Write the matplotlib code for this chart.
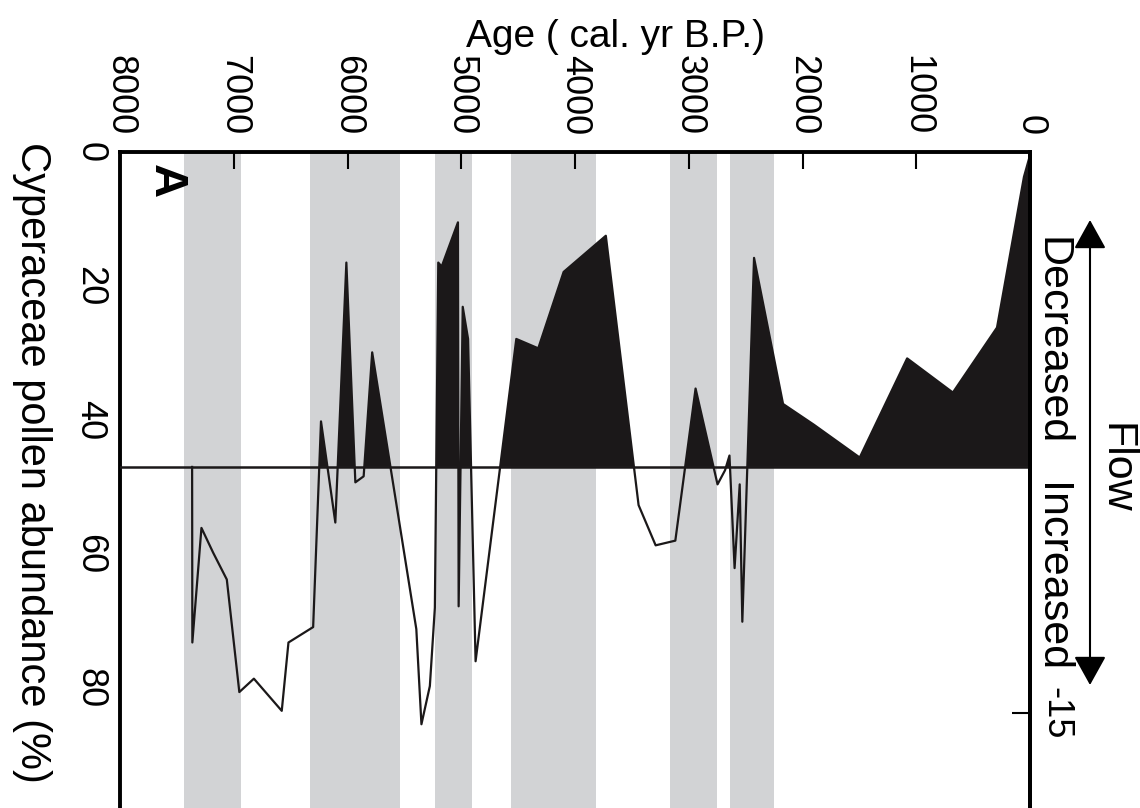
import numpy as np
import matplotlib.pyplot as plt

plt.rcParams['font.family'] = ['Liberation Sans', 'DejaVu Sans']

# Cyperaceae pollen record, age in cal. yr B.P.
age = [7366, 7364, 7284, 7181, 7061, 6951, 6823, 6578, 6519, 6302,
       6233, 6107, 6010, 5931, 5858, 5783, 5395, 5350, 5276, 5232,
       5202, 5172, 5029, 5023, 4987, 4940, 4874, 4516, 4323, 4100,
       3729, 3441, 3291, 3118, 2940, 2747, 2681, 2642, 2597, 2552,
       2529, 2426, 2171, 1900, 1497, 1080, 678, 290, 53, 0]
cyperaceae = [47, 73.2, 56.1, 59.8, 63.8, 80.6, 78.6, 83.4, 73.2, 70.9,
              40.2, 55.3, 16.5, 49.3, 48.4, 29.9, 71.2, 85.4, 79.7, 68.0,
              16.5, 17.1, 10.5, 67.8, 23.1, 27.9, 76.0, 27.9, 29.3, 17.9,
              12.5, 52.7, 58.7, 58.0, 35.3, 49.6, 47.5, 45.3, 62.1, 49.6,
              70.1, 15.8, 37.6, 40.7, 45.6, 30.8, 35.9, 26.2, 3.7, 0.5]
baseline = 47

# shaded intervals (older, younger)
bands = [(7440, 6935), (6330, 5540), (5230, 4905),
         (4563, 3815), (3165, 2750), (2637, 2250)]

age_ticks = [8000, 7000, 6000, 5000, 4000, 3000, 2000, 1000, 0]
pct_ticks = [0, 20, 40, 60, 80]
flow_ticks = [-15]

age = np.array(age)
cyperaceae = np.array(cyperaceae)

fig = plt.figure(figsize=(11.4, 8.08), dpi=100)
ax = fig.add_axes([120 / 1140, 0.0, 910 / 1140, 656 / 808])

for old, young in bands:
    ax.axvspan(young, old, color='#d2d3d5', lw=0, zorder=0)

ax.fill_between(age, cyperaceae, baseline, where=cyperaceae <= baseline,
                interpolate=True, color='#1b1819', lw=0, zorder=2)
ax.plot(age, cyperaceae, color='#1b1819', lw=1.6, zorder=3)
ax.axhline(baseline, color='#1b1819', lw=1.8, zorder=3)

ax.set_xlim(8000, 0)
ax.set_ylim(97.9, 0)

ax.spines['bottom'].set_visible(False)
for side in ('top', 'left', 'right'):
    ax.spines[side].set_linewidth(2.8)

ax.xaxis.tick_top()
ax.set_xticks(age_ticks)
ax.set_xticklabels([str(t) for t in age_ticks], rotation=-90)
ax.tick_params(axis='x', direction='in', length=12, width=1.5,
               labelsize=26, pad=12)
ax.set_yticks(pct_ticks)
ax.set_yticklabels([str(t) for t in pct_ticks], rotation=-90, va='center')
ax.tick_params(axis='y', length=0, labelsize=26, pad=9)

ax.xaxis.set_label_position('top')
ax.set_xlabel('Age ( cal. yr B.P.)', fontsize=28)
ax.xaxis.set_label_coords(0.544, 1.175)
ax.xaxis.label.set_va('center')

ax.set_ylabel('Cyperaceae pollen abundance (%)', fontsize=30, rotation=-90,
              va='center', ha='center')
ax.yaxis.set_label_coords(-0.097, 0.527)

ax.text(0.05, 0.955, 'A', transform=ax.transAxes, fontsize=34,
        fontweight='bold', rotation=-90, ha='center', va='center')

# flow scale on the right
ax2 = ax.twinx()
ax2.set_ylim(-17.54, 0)
ax2.set_yticks(flow_ticks)
ax2.set_yticklabels([str(t) for t in flow_ticks], rotation=-90, va='center')
ax2.tick_params(axis='y', direction='in', length=13, width=1.5,
                labelsize=26, pad=6)
for side in ('top', 'left', 'bottom'):
    ax2.spines[side].set_visible(False)
ax2.spines['right'].set_linewidth(2.8)

W, H = 1140, 808
fig.text(1051 / W, 1 - 237 / H, 'Decreased', rotation=-90, fontsize=31,
         ha='center', va='top')
fig.text(1051 / W, 1 - 672 / H, 'Increased', rotation=-90, fontsize=31,
         ha='center', va='bottom')
fig.text(1115 / W, 1 - 468 / H, 'Flow', rotation=-90, fontsize=31,
         ha='center', va='center')
ax.annotate('', xy=(1090 / W, 1 - 220 / H), xytext=(1090 / W, 1 - 685 / H),
            xycoords='figure fraction', textcoords='figure fraction',
            arrowprops=dict(arrowstyle='<|-|>,head_length=0.9,head_width=0.5',
                            mutation_scale=20, lw=1.5, color='black',
                            shrinkA=0, shrinkB=0))

fig.savefig('out.png', dpi=100)
